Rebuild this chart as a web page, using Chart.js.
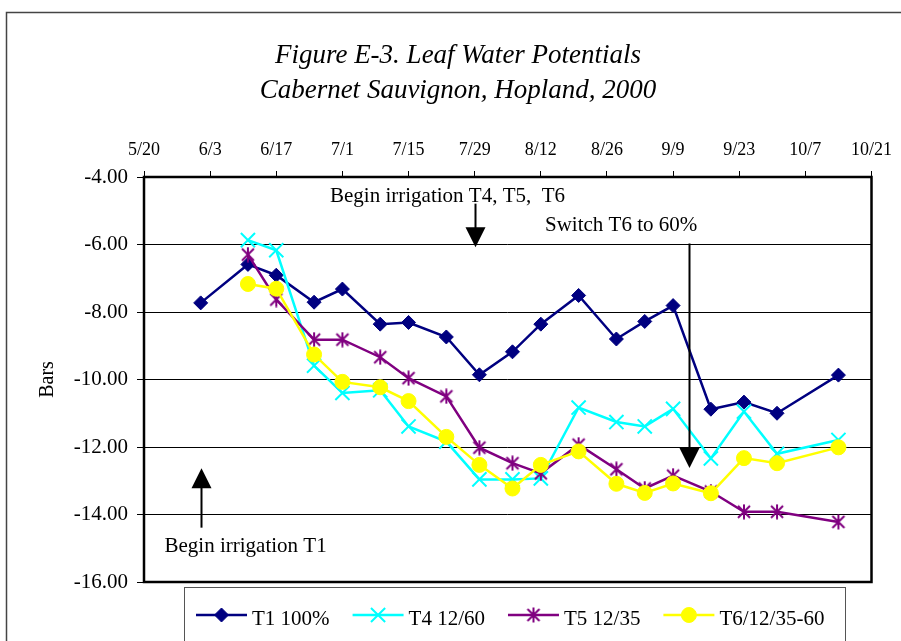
<!DOCTYPE html>
<html lang="en">
<head>
<meta charset="UTF-8">
<title>Leaf Water Potentials - Cabernet Sauvignon, Hopland, 2000</title>
<script src="https://cdn.jsdelivr.net/npm/chart.js"></script>
<style>
  body { margin: 0; background: #fff; }
  canvas { display: block; }
</style>
</head>
<body>
<canvas id="lwpChart" width="901" height="641"></canvas>
<script>
// sampling dates (2000) and leaf water potential readings, bars
const sampleDates = ['6/1', '6/11', '6/17', '6/25', '7/1', '7/9', '7/15', '7/23', '7/30', '8/6',
                     '8/12', '8/20', '8/28', '9/3', '9/9', '9/17', '9/24', '10/1', '10/14'];
const t1Values = [-7.73, -6.59, -6.91, -7.71, -7.32, -8.36, -8.31, -8.74, -9.86, -9.18,
                  -8.36, -7.51, -8.80, -8.28, -7.81, -10.88, -10.67, -11.00, -9.87];
const t4Values = [null, -5.87, -6.17, -9.59, -10.40, -10.32, -11.39, -11.84, -12.96, -12.96,
                  -12.93, -10.83, -11.26, -11.39, -10.87, -12.34, -10.95, -12.20, -11.79];
const t5Values = [null, -6.30, -7.63, -8.82, -8.82, -9.34, -9.96, -10.50, -12.02, -12.48,
                  -12.78, -11.93, -12.66, -13.23, -12.85, -13.32, -13.92, -13.92, -14.22];
const t6Values = [null, -7.17, -7.31, -9.26, -10.07, -10.23, -10.64, -11.70, -12.53, -13.23,
                  -12.53, -12.13, -13.09, -13.36, -13.08, -13.37, -12.33, -12.48, -12.01];
const seriesLabels = ['T1 100%', 'T4 12/60', 'T5 12/35', 'T6/12/35-60'];
const xTickLabels = ['5/20', '6/3', '6/17', '7/1', '7/15', '7/29', '8/12', '8/26', '9/9', '9/23', '10/7', '10/21'];

const SERIF = "'Liberation Serif', 'Times New Roman', serif";

// days since 5/20, used as the x value
function dayOf(md) {
  const [m, d] = md.split('/').map(Number);
  return (Date.UTC(2000, m - 1, d) - Date.UTC(2000, 4, 20)) / 864e5;
}
function points(values) {
  return sampleDates.map((d, i) => ({ x: dayOf(d), y: values[i] }));
}

// six-armed asterisk marker
function asterisk(color, size, lw) {
  const c = document.createElement('canvas');
  c.width = c.height = size;
  const g = c.getContext('2d');
  const m = size / 2, a = size / 2 - 2;
  g.strokeStyle = color;
  g.lineWidth = lw;
  g.beginPath();
  g.moveTo(m - a, m - a); g.lineTo(m + a, m + a);
  g.moveTo(m + a, m - a); g.lineTo(m - a, m + a);
  g.moveTo(m, 0.5); g.lineTo(m, size - 0.5);
  g.stroke();
  return c;
}

const notes = [
  { text: 'Begin irrigation T4, T5,  T6', x: 64.25, y: -4.73 },
  { text: 'Switch T6 to 60%', x: 101, y: -5.59 },
  { text: 'Begin irrigation T1', x: 21.5, y: -15.12 }
];
const arrows = [
  { x: 70, from: -4.79, to: -6.08 },
  { x: 115.4, from: -5.97, to: -12.62 },
  { x: 12, from: -14.39, to: -12.63 }
];

const annotations = {
  id: 'annotations',
  afterDraw(chart) {
    const { ctx, chartArea: a, scales: { x, y } } = chart;
    ctx.save();

    // outer frame
    ctx.strokeStyle = '#444';
    ctx.lineWidth = 1.5;
    ctx.beginPath();
    ctx.moveTo(901, 12.5); ctx.lineTo(6.5, 12.5); ctx.lineTo(6.5, 641);
    ctx.stroke();

    // plot border
    ctx.strokeStyle = '#000';
    ctx.lineWidth = 2.5;
    ctx.strokeRect(a.left, a.top, a.right - a.left, a.bottom - a.top);

    // title
    ctx.fillStyle = '#000';
    ctx.textAlign = 'center';
    ctx.textBaseline = 'alphabetic';
    ctx.font = 'italic 27px ' + SERIF;
    ctx.fillText('Figure E-3. Leaf Water Potentials', 458, 63);
    ctx.fillText('Cabernet Sauvignon, Hopland, 2000', 458, 98);

    // notes and arrows
    ctx.font = '21px ' + SERIF;
    notes.forEach(n => ctx.fillText(n.text, x.getPixelForValue(n.x), y.getPixelForValue(n.y)));
    ctx.lineWidth = 2;
    arrows.forEach(ar => {
      const px = Math.round(x.getPixelForValue(ar.x)) + 0.5;
      const y0 = y.getPixelForValue(ar.from);
      const y1 = y.getPixelForValue(ar.to);
      const dir = y1 > y0 ? 1 : -1;
      ctx.beginPath();
      ctx.moveTo(px, y0);
      ctx.lineTo(px, y1 - dir * 18);
      ctx.stroke();
      ctx.beginPath();
      ctx.moveTo(px, y1);
      ctx.lineTo(px - 10, y1 - dir * 20);
      ctx.lineTo(px + 10, y1 - dir * 20);
      ctx.closePath();
      ctx.fill();
    });

    // legend
    ctx.strokeStyle = '#555';
    ctx.lineWidth = 1;
    ctx.strokeRect(184.5, 587.5, 661, 100);
    ctx.font = '21px ' + SERIF;
    ctx.textAlign = 'left';
    ctx.textBaseline = 'middle';
    let lx = 196;
    const ly = 615;
    chart.data.datasets.forEach(ds => {
      ctx.strokeStyle = ds.borderColor;
      ctx.lineWidth = ds.borderWidth;
      ctx.beginPath();
      ctx.moveTo(lx, ly); ctx.lineTo(lx + 51, ly);
      ctx.stroke();
      ctx.fillStyle = ds.pointBackgroundColor;
      ctx.strokeStyle = ds.pointBorderColor;
      ctx.lineWidth = ds.pointBorderWidth;
      Chart.helpers.drawPoint(ctx, {
        pointStyle: ds.pointStyle, radius: ds.pointRadius, borderWidth: ds.pointBorderWidth, rotation: 0
      }, lx + 25.5, ly);
      ctx.fillStyle = '#000';
      ctx.fillText(ds.label, lx + 56, ly + 4);
      lx += 56 + ctx.measureText(ds.label).width + 23;
    });
    ctx.restore();
  }
};

function series(label, values, color, style, radius, pbw, order) {
  return {
    label, data: points(values), order,
    borderColor: color, backgroundColor: color, borderWidth: 2.5,
    pointStyle: style, pointRadius: radius, pointBorderWidth: pbw,
    pointBackgroundColor: color, pointBorderColor: color,
    pointHoverRadius: radius, tension: 0, fill: false
  };
}

new Chart(document.getElementById('lwpChart').getContext('2d'), {
  type: 'line',
  data: {
    datasets: [
      series(seriesLabels[0], t1Values, '#000080', 'rectRot', 7, 1, 4),
      series(seriesLabels[1], t4Values, '#00FFFF', 'crossRot', 10, 2, 3),
      series(seriesLabels[2], t5Values, '#800080', asterisk('#800080', 16, 2), 8, 0, 2),
      series(seriesLabels[3], t6Values, '#FFFF00', 'circle', 7.5, 1, 1)
    ]
  },
  options: {
    responsive: false,
    animation: false,
    devicePixelRatio: 1,
    layout: { padding: { left: 0, top: 127, right: 29.5, bottom: 59 } },
    plugins: {
      legend: { display: false },
      title: { display: false },
      tooltip: { enabled: false }
    },
    scales: {
      x: {
        type: 'linear',
        position: 'top',
        min: 0,
        max: 154,
        ticks: {
          stepSize: 14, padding: 10, color: '#000', autoSkip: false, maxRotation: 0,
          font: { family: SERIF, size: 18 },
          callback: (v, i) => xTickLabels[i]
        },
        grid: { drawOnChartArea: false, tickLength: 6, color: '#000' },
        border: { display: false },
        afterFit(s) { s.height = 50; s.paddingLeft = 0; s.paddingRight = 0; }
      },
      y: {
        min: -16,
        max: -4,
        ticks: {
          stepSize: 2, padding: 9, color: '#000',
          font: { family: SERIF, size: 21 },
          callback: v => v.toFixed(2)
        },
        grid: { color: '#000', lineWidth: 1, tickLength: 7 },
        border: { display: false },
        title: {
          display: true, text: 'Bars', color: '#000',
          font: { family: SERIF, size: 20 },
          padding: { top: 35.5, bottom: 0 }
        },
        afterFit(s) { s.width = 144; s.paddingTop = 0; s.paddingBottom = 0; }
      }
    }
  },
  plugins: [annotations]
});
</script>
</body>
</html>
